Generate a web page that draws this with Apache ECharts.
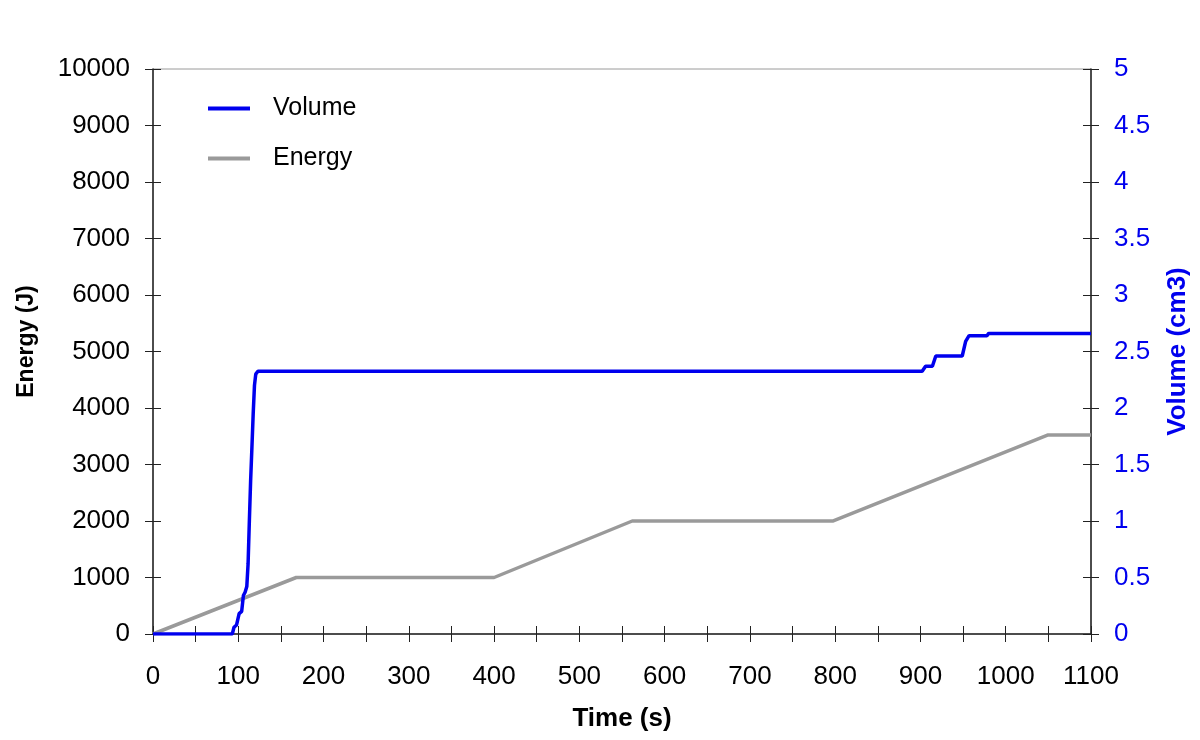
<!DOCTYPE html>
<html>
<head>
<meta charset="utf-8">
<script src="https://cdn.jsdelivr.net/npm/echarts@6/dist/echarts.min.js"></script>
<style>
  html, body { margin: 0; padding: 0; background: #fff; }
  #chart { width: 1200px; height: 740px; }
</style>
</head>
<body>
<div id="chart"></div>
<script>
// Volume trace (s, cm3)
const volumeTimes = [0, 93, 95, 98, 101, 104, 106, 108, 110, 111.5, 113, 114.5, 116, 117.5, 119, 120.5, 123,
  902, 906, 914, 918, 949, 953, 957, 978, 980, 1100];
const volumeValues = [0, 0, 0.06, 0.08, 0.18, 0.2, 0.34, 0.37, 0.42, 0.62, 1.0, 1.36, 1.65, 1.95, 2.2, 2.3, 2.325,
  2.325, 2.37, 2.37, 2.46, 2.46, 2.59, 2.64, 2.64, 2.66, 2.66];

// Energy trace (s, J)
const energyTimes = [0, 168, 400, 562, 797, 1049, 1100];
const energyValues = [0, 1000, 1000, 2000, 2000, 3520, 3520];

const volumeData = volumeTimes.map((t, i) => [t, volumeValues[i]]);
const energyData = energyTimes.map((t, i) => [t, energyValues[i]]);

const FONT = "Liberation Sans, Arial, sans-serif";
const AXIS_COLOR = "#222";
const BLUE = "#0000ee";
const GRAY = "#9a9a9a";

const tickOut = { show: true, inside: false, length: 8, lineStyle: { color: AXIS_COLOR, width: 1 } };
const tickIn = { show: true, inside: true, length: 8, lineStyle: { color: AXIS_COLOR, width: 1 } };
// twin axes only carry the inner half of the crossing ticks
const hiddenLine = { show: true, onZero: false, lineStyle: { color: "rgba(0,0,0,0)", width: 1 } };

const plain = (v) => String(v);

const chart = echarts.init(document.getElementById("chart"), null, { renderer: "canvas" });

chart.setOption({
  animation: false,
  backgroundColor: "#fff",
  textStyle: { fontFamily: FONT },
  grid: {
    left: 153,
    right: 109,
    top: 69,
    bottom: 106,
    containLabel: false,
    outerBoundsMode: "none",
    show: true,
    borderColor: GRAY,
    borderWidth: 1,
  },
  legend: {
    data: ["Volume", "Energy"],
    orient: "vertical",
    left: 208,
    top: 96,
    padding: 0,
    itemWidth: 42,
    itemHeight: 4,
    itemGap: 25,
    icon: "rect",
    formatter: (name) => "{s|}" + name,
    textStyle: {
      fontFamily: FONT,
      fontSize: 25,
      lineHeight: 25,
      color: "#000",
      rich: { s: { width: 18 } },
    },
  },
  xAxis: [
    {
      type: "value",
      min: 0,
      max: 1100,
      interval: 50,
      position: "bottom",
      name: "Time (s)",
      nameLocation: "middle",
      nameGap: 72,
      nameTextStyle: { fontFamily: FONT, fontSize: 26, fontWeight: "bold", color: "#000" },
      axisLine: { show: true, onZero: false, lineStyle: { color: AXIS_COLOR, width: 1.5 } },
      axisTick: tickOut,
      axisLabel: {
        fontFamily: FONT,
        fontSize: 26,
        color: "#000",
        margin: 30,
        formatter: (v) => (v % 100 === 0 ? String(v) : ""),
      },
      splitLine: { show: false },
    },
    {
      type: "value",
      min: 0,
      max: 1100,
      interval: 50,
      position: "bottom",
      offset: 0,
      axisLine: hiddenLine,
      axisTick: tickIn,
      axisLabel: { show: false },
      splitLine: { show: false },
    },
  ],
  yAxis: [
    {
      type: "value",
      min: 0,
      max: 10000,
      interval: 1000,
      position: "left",
      offset: 0,
      name: "Energy (J)",
      nameLocation: "middle",
      nameGap: 115,
      nameTextStyle: {
        fontFamily: FONT,
        fontSize: 23,
        fontWeight: "bold",
        color: "#000",
        padding: [0, 0, 0, 20],
      },
      axisLine: { show: true, onZero: false, lineStyle: { color: AXIS_COLOR, width: 1.5 } },
      axisTick: tickOut,
      axisLabel: { fontFamily: FONT, fontSize: 26, color: "#000", margin: 23, formatter: plain },
      splitLine: { show: false },
    },
    {
      type: "value",
      min: 0,
      max: 10000,
      interval: 1000,
      position: "left",
      offset: 0,
      axisLine: hiddenLine,
      axisTick: tickIn,
      axisLabel: { show: false },
      splitLine: { show: false },
    },
    {
      type: "value",
      min: 0,
      max: 5,
      interval: 0.5,
      position: "right",
      offset: 0,
      name: "Volume (cm3)",
      nameLocation: "middle",
      nameGap: 74,
      nameTextStyle: { fontFamily: FONT, fontSize: 26, fontWeight: "bold", color: BLUE },
      axisLine: { show: true, onZero: false, lineStyle: { color: AXIS_COLOR, width: 1.5 } },
      axisTick: tickOut,
      axisLabel: { fontFamily: FONT, fontSize: 26, color: BLUE, margin: 23, formatter: plain },
      splitLine: { show: false },
    },
    {
      type: "value",
      min: 0,
      max: 5,
      interval: 0.5,
      position: "right",
      offset: 0,
      axisLine: hiddenLine,
      axisTick: tickIn,
      axisLabel: { show: false },
      splitLine: { show: false },
    },
  ],
  series: [
    {
      name: "Energy",
      type: "line",
      xAxisIndex: 0,
      yAxisIndex: 0,
      data: energyData,
      showSymbol: false,
      symbol: "none",
      lineStyle: { color: GRAY, width: 3.5 },
      itemStyle: { color: GRAY },
      z: 2,
    },
    {
      name: "Volume",
      type: "line",
      xAxisIndex: 0,
      yAxisIndex: 2,
      data: volumeData,
      showSymbol: false,
      symbol: "none",
      lineStyle: { color: BLUE, width: 3.5 },
      itemStyle: { color: BLUE },
      z: 3,
    },
    {
      // anchors the twin axes so they render their ticks
      name: "twin",
      type: "line",
      xAxisIndex: 1,
      yAxisIndex: 1,
      data: [],
      silent: true,
    },
    {
      name: "twinRight",
      type: "line",
      xAxisIndex: 1,
      yAxisIndex: 3,
      data: [],
      silent: true,
    },
  ],
});
</script>
</body>
</html>
